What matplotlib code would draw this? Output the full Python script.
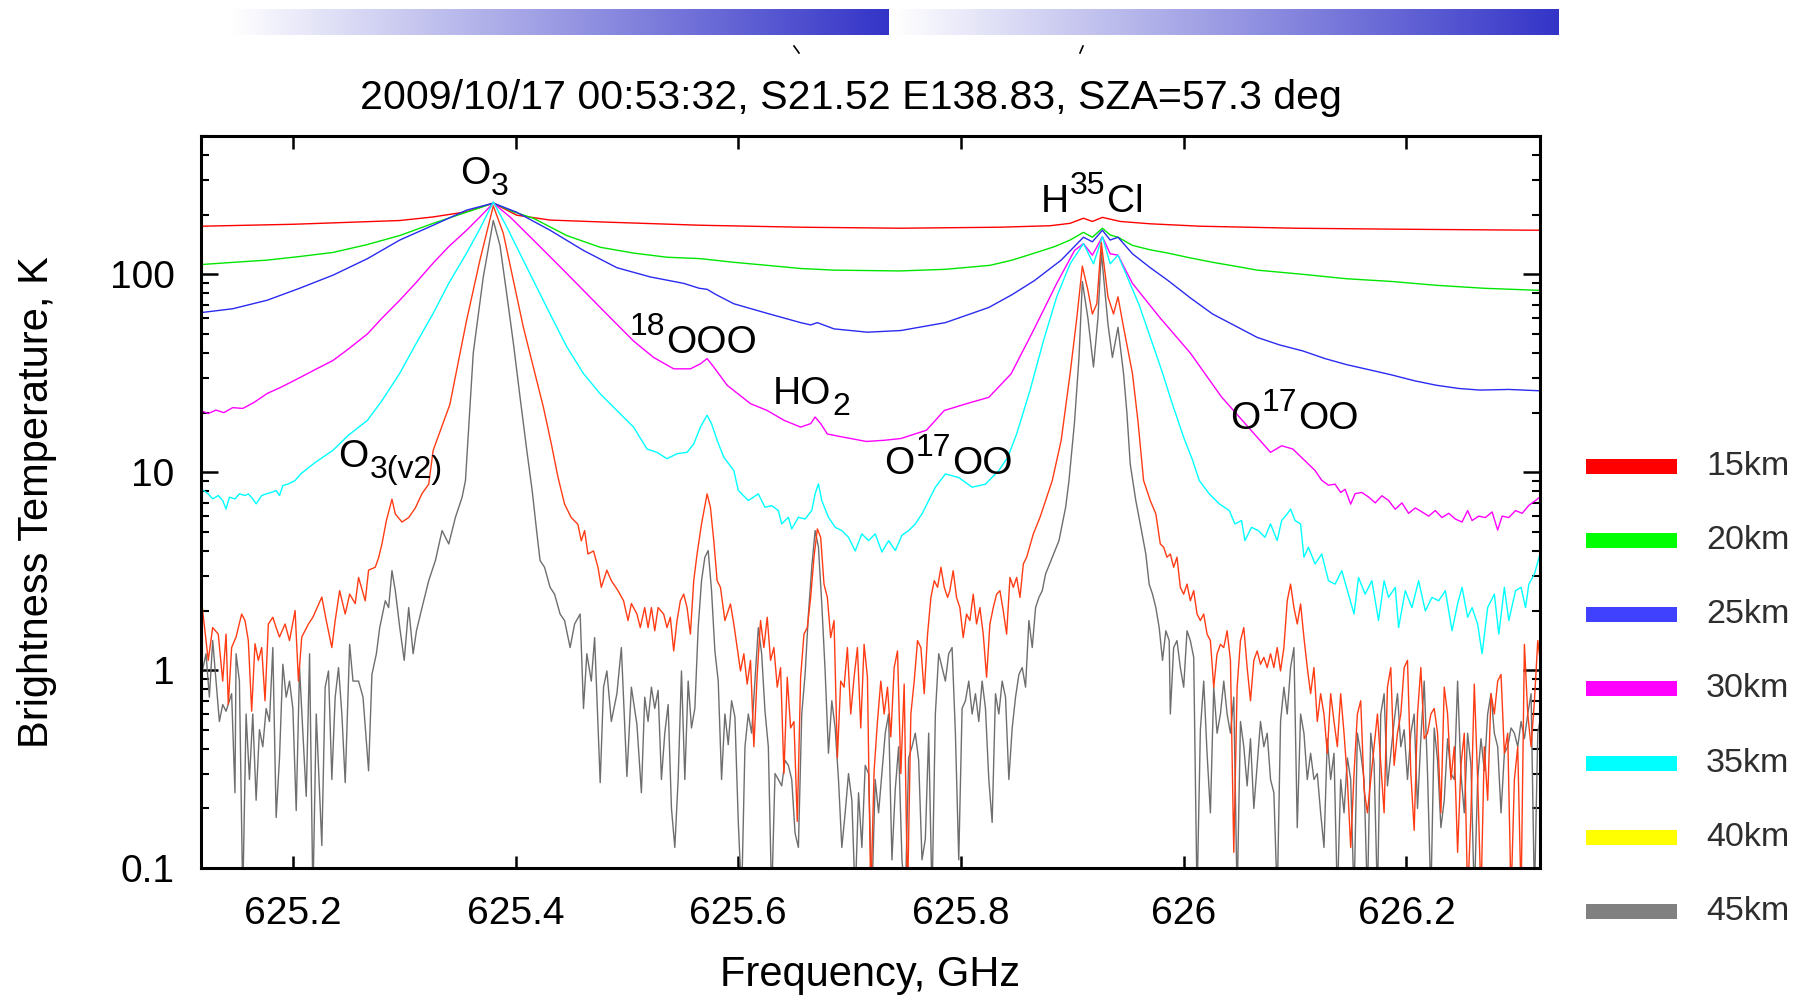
import matplotlib.pyplot as plt
from matplotlib import patches
from matplotlib.colors import LinearSegmentedColormap
from matplotlib.lines import Line2D
from matplotlib.ticker import LogLocator, NullFormatter
import numpy as np

plt.rcParams["font.family"] = ["Liberation Sans", "DejaVu Sans"]

title = "2009/10/17 00:53:32, S21.52 E138.83, SZA=57.3 deg"

#####################################################################
## Spectra: frequency (GHz) and brightness temperature (K) per altitude
#####################################################################
freq_15 = [625.117, 625.200, 625.296, 625.326, 625.356, 625.380, 625.401, 625.431,
           625.476, 625.566, 625.656, 625.746, 625.835, 625.880, 625.898, 625.910,
           625.918, 625.927, 625.943, 625.970, 626.015, 626.100, 626.195, 626.320]
temp_15 = [175, 179, 187, 195, 207, 229, 199, 188,
           184, 177, 173, 171, 173, 176, 181, 192,
           185, 194, 185, 180, 175, 171, 169, 167]

freq_20 = [625.117, 625.147, 625.177, 625.206, 625.236, 625.266, 625.296, 625.326,
           625.356, 625.380, 625.398, 625.416, 625.446, 625.476, 625.506, 625.536,
           625.566, 625.596, 625.626, 625.656, 625.686, 625.745, 625.786, 625.826,
           625.846, 625.866, 625.884, 625.898, 625.910, 625.918, 625.927, 625.934,
           625.941, 625.954, 625.970, 625.986, 626.006, 626.026, 626.046, 626.066,
           626.107, 626.146, 626.187, 626.227, 626.270, 626.319]
temp_20 = [112, 115, 118, 123, 129, 141, 157, 181,
           206, 229, 207, 192, 157, 137, 128, 122,
           120, 115, 111, 107, 105, 104, 106, 111,
           118, 128, 138, 149, 163, 154, 171, 158,
           154, 140, 133, 128, 121, 115, 110, 105,
           100, 95, 92, 88, 85, 83]

freq_25 = [625.117, 625.146, 625.177, 625.206, 625.236, 625.267, 625.296, 625.326,
           625.356, 625.380, 625.401, 625.431, 625.461, 625.491, 625.521, 625.551,
           625.565, 625.572, 625.580, 625.596, 625.626, 625.656, 625.665, 625.671,
           625.686, 625.716, 625.746, 625.786, 625.825, 625.846, 625.866, 625.890,
           625.910, 625.918, 625.927, 625.934, 625.941, 625.954, 625.970, 625.986,
           626.006, 626.026, 626.046, 626.066, 626.086, 626.107, 626.127, 626.146,
           626.166, 626.187, 626.207, 626.227, 626.247, 626.266, 626.292, 626.319]
temp_25 = [64, 67, 74, 85, 99, 120, 149, 177,
           211, 229, 206, 167, 132, 108, 97, 90,
           85, 84, 79, 71, 63.5, 57, 55.5, 57,
           53, 51, 52, 57, 68, 79, 93, 118,
           154, 146, 167, 149, 154, 127, 108, 93,
           76, 63, 55, 48, 44, 41, 37.5, 35,
           33, 31, 29, 27.5, 26.5, 26, 26.2, 25.8]

freq_30 = [625.117, 625.124, 625.131, 625.138, 625.146, 625.155, 625.165, 625.177,
           625.190, 625.206, 625.220, 625.236, 625.250, 625.267, 625.280, 625.296,
           625.310, 625.326, 625.340, 625.356, 625.368, 625.380, 625.395, 625.416,
           625.446, 625.476, 625.506, 625.524, 625.542, 625.557, 625.566, 625.572,
           625.578, 625.590, 625.611, 625.626, 625.641, 625.656, 625.665, 625.669,
           625.674, 625.680, 625.690, 625.701, 625.715, 625.731, 625.746, 625.769,
           625.785, 625.805, 625.825, 625.845, 625.865, 625.886, 625.902, 625.910,
           625.918, 625.927, 625.934, 625.941, 625.954, 625.978, 626.006, 626.034,
           626.058, 626.078, 626.088, 626.098, 626.118, 626.124, 626.130, 626.136,
           626.141, 626.145, 626.150, 626.154, 626.160, 626.166, 626.172, 626.178,
           626.184, 626.190, 626.196, 626.202, 626.208, 626.214, 626.220, 626.226,
           626.232, 626.238, 626.244, 626.250, 626.255, 626.259, 626.265, 626.271,
           626.277, 626.282, 626.286, 626.292, 626.298, 626.304, 626.310, 626.316,
           626.320]
temp_30 = [20.5, 19.8, 20.6, 20.0, 21.2, 21.0, 22.5, 25,
           27, 30, 33, 36.7, 42, 50, 60, 74,
           90, 114, 138, 167, 195, 229, 195, 149,
           101, 68, 46, 38, 33.3, 33.3, 35.3, 37.5,
           34, 27.5, 22.2, 20.5, 18.3, 16.9, 17.6, 19,
           17.6, 15.6, 15.2, 14.8, 14.3, 14.5, 14.8, 16.3,
           20.5, 22.2, 23.9, 31.4, 52, 90, 132, 143,
           125, 155, 127, 125, 90, 61, 40, 24,
           16.9, 12.6, 13.6, 13.1, 10.2, 9.1, 8.6, 8.7,
           7.9, 8.2, 6.9, 7.8, 7.9, 7.5, 7.0, 7.6,
           7.2, 6.5, 7.0, 6.2, 6.6, 6.3, 6.0, 6.4,
           5.9, 6.2, 5.8, 5.6, 6.4, 5.7, 6.0, 5.9,
           6.3, 5.1, 6.0, 5.9, 6.4, 6.2, 6.8, 7.2,
           7.5]

freq_35 = [625.117, 625.120, 625.124, 625.128, 625.133, 625.137, 625.140, 625.143,
           625.148, 625.152, 625.157, 625.160, 625.164, 625.167, 625.172, 625.176,
           625.181, 625.185, 625.188, 625.191, 625.196, 625.202, 625.207, 625.220,
           625.236, 625.250, 625.267, 625.280, 625.296, 625.310, 625.326, 625.340,
           625.356, 625.368, 625.380, 625.392, 625.404, 625.416, 625.431, 625.446,
           625.461, 625.476, 625.491, 625.506, 625.518, 625.527, 625.536, 625.545,
           625.554, 625.560, 625.566, 625.572, 625.576, 625.581, 625.587, 625.596,
           625.600, 625.609, 625.618, 625.624, 625.630, 625.636, 625.639, 625.645,
           625.648, 625.654, 625.660, 625.666, 625.669, 625.672, 625.675, 625.681,
           625.687, 625.693, 625.699, 625.705, 625.711, 625.717, 625.723, 625.729,
           625.735, 625.741, 625.747, 625.753, 625.759, 625.765, 625.771, 625.777,
           625.786, 625.798, 625.810, 625.822, 625.834, 625.842, 625.850, 625.862,
           625.874, 625.886, 625.898, 625.910, 625.919, 625.927, 625.934, 625.941,
           625.950, 625.960, 625.970, 625.980, 625.990, 626.000, 626.008, 626.014,
           626.023, 626.032, 626.041, 626.046, 626.052, 626.055, 626.061, 626.067,
           626.073, 626.078, 626.084, 626.088, 626.093, 626.096, 626.100, 626.105,
           626.108, 626.112, 626.118, 626.124, 626.130, 626.136, 626.142, 626.148,
           626.153, 626.157, 626.163, 626.169, 626.175, 626.180, 626.184, 626.190,
           626.193, 626.199, 626.205, 626.211, 626.217, 626.223, 626.229, 626.235,
           626.241, 626.246, 626.250, 626.255, 626.259, 626.264, 626.268, 626.273,
           626.279, 626.283, 626.288, 626.292, 626.298, 626.303, 626.307, 626.310,
           626.315, 626.320]
temp_35 = [8.1, 8.08, 7.77, 7.33, 7.62, 7.19, 6.52, 7.48,
           7.33, 7.77, 7.62, 7.77, 7.33, 6.92, 7.62, 7.77,
           7.92, 8.08, 7.62, 8.56, 8.73, 9.08, 9.8, 11.2,
           12.9, 15.4, 18.3, 23, 31.6, 44, 63.5, 90,
           128, 170, 232, 174, 127, 93, 63, 43,
           31.5, 24.9, 20.5, 16.9, 13.1, 12.6, 11.7, 12.4,
           12.6, 13.9, 16.9, 19.4, 17.6, 14.5, 11.9, 10.2,
           8.1, 7.19, 7.77, 6.65, 6.78, 6.4, 5.48, 5.92,
           5.17, 5.92, 5.8, 6.4, 7.77, 8.73, 7.19, 5.92,
           5.27, 5.07, 4.69, 4.0, 4.88, 4.51, 4.88, 3.95,
           4.51, 4.02, 4.8, 5.07, 5.48, 6.16, 7.19, 8.4,
           9.8, 9.4, 8.4, 8.7, 10.2, 11.9, 15.6, 25.9,
           46, 77, 113, 143, 113, 155, 113, 125,
           95, 70, 48, 33, 22, 15, 11.5, 9.08,
           7.77, 6.92, 6.4, 5.48, 5.7, 4.51, 5.27, 5.07,
           4.69, 5.48, 4.51, 5.7, 6.16, 6.52, 5.7, 5.48,
           3.72, 4.18, 3.44, 3.86, 2.83, 2.72, 3.18, 2.42,
           1.92, 2.94, 2.42, 2.83, 1.78, 2.83, 2.33, 2.62,
           1.64, 2.52, 2.07, 2.83, 1.99, 2.33, 2.24, 2.52,
           1.58, 2.16, 2.62, 1.85, 2.07, 1.71, 1.21, 2.07,
           2.42, 1.52, 2.62, 1.78, 2.52, 2.62, 2.07, 2.72,
           3.06, 3.86]

freq_40 = [625.118, 625.124, 625.128, 625.133, 625.137, 625.140, 625.142, 625.145,
           625.149, 625.154, 625.157, 625.160, 625.163, 625.166, 625.169, 625.172,
           625.175, 625.178, 625.182, 625.185, 625.188, 625.193, 625.197, 625.202,
           625.205, 625.208, 625.214, 625.218, 625.226, 625.230, 625.235, 625.238,
           625.242, 625.247, 625.251, 625.256, 625.259, 625.265, 625.268, 625.274,
           625.277, 625.280, 625.284, 625.289, 625.292, 625.298, 625.304, 625.310,
           625.316, 625.322, 625.326, 625.341, 625.356, 625.368, 625.380, 625.389,
           625.398, 625.407, 625.416, 625.425, 625.432, 625.438, 625.444, 625.450,
           625.456, 625.459, 625.462, 625.465, 625.470, 625.474, 625.477, 625.482,
           625.486, 625.492, 625.497, 625.501, 625.504, 625.509, 625.512, 625.516,
           625.519, 625.522, 625.525, 625.528, 625.533, 625.536, 625.539, 625.542,
           625.545, 625.548, 625.551, 625.554, 625.557, 625.560, 625.563, 625.567,
           625.572, 625.575, 625.578, 625.581, 625.584, 625.588, 625.593, 625.596,
           625.599, 625.602, 625.605, 625.608, 625.611, 625.614, 625.617, 625.620,
           625.623, 625.626, 625.629, 625.632, 625.635, 625.638, 625.641, 625.644,
           625.647, 625.650, 625.653, 625.656, 625.659, 625.662, 625.665, 625.668,
           625.671, 625.674, 625.677, 625.680, 625.683, 625.686, 625.689, 625.692,
           625.695, 625.698, 625.701, 625.704, 625.707, 625.710, 625.713, 625.716,
           625.719, 625.722, 625.725, 625.728, 625.731, 625.734, 625.737, 625.740,
           625.743, 625.746, 625.749, 625.752, 625.755, 625.758, 625.761, 625.764,
           625.767, 625.770, 625.773, 625.776, 625.779, 625.782, 625.785, 625.788,
           625.790, 625.793, 625.796, 625.799, 625.802, 625.805, 625.808, 625.811,
           625.814, 625.817, 625.820, 625.823, 625.826, 625.829, 625.832, 625.835,
           625.838, 625.841, 625.844, 625.847, 625.850, 625.853, 625.856, 625.859,
           625.865, 625.871, 625.877, 625.882, 625.890, 625.898, 625.904, 625.909,
           625.914, 625.918, 625.922, 625.926, 625.932, 625.937, 625.941, 625.946,
           625.954, 625.959, 625.964, 625.970, 625.975, 625.979, 625.982, 625.985,
           625.988, 625.991, 625.994, 625.997, 626.000, 626.003, 626.006, 626.009,
           626.012, 626.015, 626.018, 626.021, 626.024, 626.027, 626.030, 626.033,
           626.036, 626.039, 626.042, 626.045, 626.048, 626.051, 626.054, 626.057,
           626.060, 626.063, 626.066, 626.069, 626.072, 626.075, 626.078, 626.081,
           626.084, 626.087, 626.090, 626.093, 626.096, 626.099, 626.102, 626.105,
           626.108, 626.111, 626.114, 626.117, 626.120, 626.123, 626.126, 626.129,
           626.132, 626.135, 626.138, 626.141, 626.144, 626.147, 626.150, 626.153,
           626.156, 626.159, 626.162, 626.165, 626.168, 626.171, 626.174, 626.177,
           626.180, 626.183, 626.186, 626.189, 626.192, 626.195, 626.198, 626.201,
           626.204, 626.207, 626.210, 626.213, 626.216, 626.219, 626.222, 626.225,
           626.228, 626.231, 626.234, 626.237, 626.240, 626.243, 626.246, 626.249,
           626.252, 626.255, 626.258, 626.261, 626.264, 626.267, 626.270, 626.273,
           626.276, 626.279, 626.282, 626.285, 626.288, 626.291, 626.294, 626.297,
           626.300, 626.303, 626.306, 626.309, 626.312, 626.315, 626.318, 626.321]
temp_40 = [2.24, 1.12, 1.64, 1.52, 0.88, 1.52, 0.67, 1.30,
           1.47, 1.92, 1.78, 1.41, 0.62, 1.36, 1.12, 1.30,
           0.70, 1.71, 1.85, 1.64, 1.47, 1.71, 1.41, 2.0,
           0.88, 1.47, 1.71, 1.85, 2.34, 1.78, 1.30, 1.78,
           2.52, 1.92, 2.42, 2.17, 2.94, 2.24, 3.2, 3.31,
           3.7, 4.34, 5.7, 7.3, 6.15, 5.6, 5.9, 6.6,
           7.8, 8.7, 12.9, 22, 58.5, 118, 222, 161,
           93, 54, 34, 21.3, 14, 9.5, 6.9, 5.9,
           5.45, 4.5, 5.07, 3.86, 4.0, 3.31, 2.62, 3.2,
           2.83, 2.52, 2.24, 1.78, 2.17, 1.92, 1.64, 2.07,
           1.64, 2.07, 1.58, 2.07, 1.92, 1.64, 1.85, 1.25,
           1.78, 2.24, 2.42, 2.07, 1.52, 2.83, 3.86, 5.48,
           7.77, 6.65, 4.51, 2.83, 2.62, 1.78, 2.16, 1.71,
           1.30, 0.99, 1.21, 0.85, 1.12, 0.41, 0.95, 1.78,
           1.30, 1.85, 1.12, 1.30, 0.82, 1.03, 0.30, 0.92,
           0.51, 0.55, 0.172, 0.92, 1.52, 1.64, 2.33, 3.72,
           5.17, 4.69, 2.72, 2.33, 1.46, 1.78, 0.36, 0.88,
           0.82, 1.30, 0.60, 0.92, 1.30, 0.51, 1.35, 0.92,
           0.07, 0.31, 0.55, 0.88, 0.60, 0.82, 0.46, 1.03,
           1.25, 0.30, 0.85, 0.07, 0.60, 0.88, 1.41, 1.30,
           0.76, 1.52, 2.33, 2.83, 2.62, 3.31, 2.62, 2.33,
           2.52, 3.18, 2.33, 2.07, 1.46, 1.92, 1.78, 2.42,
           1.71, 2.07, 1.52, 0.92, 1.71, 2.07, 2.42, 2.52,
           1.99, 1.52, 2.94, 2.62, 2.94, 2.33, 3.44, 3.72,
           4.88, 5.92, 7.48, 9.08, 14.5, 31.5, 60, 110,
           83, 63, 71, 145, 77, 63, 77, 54,
           31.5, 18, 9.08, 7.19, 6.16, 4.34, 4.18, 3.72,
           3.86, 3.31, 3.72, 2.62, 2.42, 2.72, 2.24, 2.52,
           1.92, 1.78, 1.92, 1.52, 1.41, 0.82, 1.21, 1.35,
           1.30, 1.58, 1.12, 0.12, 0.82, 1.41, 1.64, 1.03,
           0.70, 1.12, 1.25, 1.07, 1.16, 1.03, 1.21, 1.03,
           1.30, 0.99, 1.30, 2.24, 2.72, 2.07, 1.71, 2.16,
           1.46, 1.03, 0.76, 1.03, 0.55, 0.76, 0.60, 0.38,
           0.76, 0.55, 0.41, 0.76, 0.48, 0.28, 0.127, 0.30,
           0.60, 0.70, 0.25, 0.19, 0.28, 0.41, 0.60, 0.34,
           0.19, 0.82, 1.03, 0.33, 0.48, 0.60, 1.03, 1.12,
           0.30, 0.155, 0.60, 1.03, 0.45, 0.48, 0.60, 0.64,
           0.48, 0.19, 0.82, 0.60, 0.28, 0.41, 0.12, 0.33,
           0.48, 0.07, 0.19, 0.85, 0.28, 0.07, 0.41, 0.22,
           0.76, 0.60, 0.88, 0.95, 0.38, 0.48, 0.07, 0.28,
           0.41, 0.07, 1.35, 0.60, 0.41, 0.70, 1.41, 1.03]

freq_45 = [625.118, 625.122, 625.125, 625.128, 625.131, 625.134, 625.137, 625.140,
           625.145, 625.148, 625.149, 625.152, 625.155, 625.158, 625.161, 625.164,
           625.167, 625.170, 625.173, 625.176, 625.179, 625.182, 625.185, 625.188,
           625.191, 625.194, 625.197, 625.200, 625.203, 625.206, 625.209, 625.212,
           625.215, 625.218, 625.221, 625.226, 625.229, 625.232, 625.235, 625.238,
           625.241, 625.244, 625.247, 625.251, 625.254, 625.259, 625.263, 625.268,
           625.271, 625.275, 625.278, 625.283, 625.286, 625.289, 625.292, 625.296,
           625.300, 625.304, 625.308, 625.311, 625.316, 625.322, 625.328, 625.334,
           625.340, 625.346, 625.352, 625.355, 625.362, 625.371, 625.380, 625.386,
           625.392, 625.398, 625.404, 625.410, 625.415, 625.419, 625.422, 625.426,
           625.431, 625.435, 625.440, 625.444, 625.449, 625.453, 625.458, 625.461,
           625.464, 625.468, 625.471, 625.476, 625.479, 625.482, 625.486, 625.491,
           625.495, 625.500, 625.504, 625.509, 625.513, 625.516, 625.519, 625.522,
           625.525, 625.528, 625.531, 625.534, 625.537, 625.540, 625.543, 625.546,
           625.549, 625.552, 625.555, 625.558, 625.561, 625.564, 625.567, 625.570,
           625.573, 625.576, 625.579, 625.582, 625.585, 625.588, 625.591, 625.594,
           625.597, 625.600, 625.603, 625.606, 625.609, 625.612, 625.615, 625.618,
           625.621, 625.624, 625.627, 625.630, 625.633, 625.636, 625.639, 625.642,
           625.645, 625.648, 625.651, 625.654, 625.657, 625.660, 625.663, 625.666,
           625.669, 625.672, 625.675, 625.678, 625.681, 625.684, 625.687, 625.690,
           625.693, 625.696, 625.699, 625.702, 625.705, 625.708, 625.711, 625.714,
           625.717, 625.720, 625.723, 625.726, 625.729, 625.732, 625.735, 625.738,
           625.741, 625.744, 625.747, 625.750, 625.753, 625.756, 625.759, 625.762,
           625.765, 625.768, 625.771, 625.774, 625.777, 625.780, 625.783, 625.786,
           625.789, 625.792, 625.795, 625.798, 625.801, 625.804, 625.807, 625.810,
           625.813, 625.816, 625.819, 625.822, 625.825, 625.828, 625.831, 625.834,
           625.837, 625.840, 625.843, 625.846, 625.849, 625.852, 625.855, 625.858,
           625.861, 625.864, 625.867, 625.870, 625.873, 625.876, 625.882, 625.888,
           625.894, 625.897, 625.902, 625.906, 625.909, 625.914, 625.919, 625.923,
           625.926, 625.932, 625.936, 625.941, 625.946, 625.949, 625.952, 625.957,
           625.961, 625.966, 625.969, 625.972, 625.975, 625.978, 625.981, 625.984,
           625.987, 625.988, 625.991, 625.994, 625.997, 626.000, 626.003, 626.006,
           626.009, 626.012, 626.015, 626.018, 626.021, 626.024, 626.027, 626.030,
           626.033, 626.036, 626.039, 626.042, 626.045, 626.048, 626.051, 626.054,
           626.057, 626.060, 626.063, 626.066, 626.069, 626.072, 626.075, 626.078,
           626.081, 626.084, 626.087, 626.090, 626.093, 626.096, 626.099, 626.102,
           626.105, 626.108, 626.111, 626.114, 626.117, 626.120, 626.123, 626.126,
           626.129, 626.132, 626.135, 626.138, 626.141, 626.144, 626.147, 626.150,
           626.153, 626.156, 626.159, 626.162, 626.165, 626.168, 626.171, 626.174,
           626.177, 626.180, 626.183, 626.186, 626.189, 626.192, 626.195, 626.198,
           626.201, 626.204, 626.207, 626.210, 626.213, 626.216, 626.219, 626.222,
           626.225, 626.228, 626.231, 626.234, 626.237, 626.240, 626.243, 626.246,
           626.249, 626.252, 626.255, 626.258, 626.261, 626.264, 626.267, 626.270,
           626.273, 626.276, 626.279, 626.282, 626.285, 626.288, 626.291, 626.294,
           626.297, 626.300, 626.303, 626.306, 626.309, 626.312, 626.315, 626.318,
           626.321]
temp_45 = [0.95, 1.21, 0.73, 1.41, 0.88, 0.55, 0.67, 0.62,
           0.76, 0.24, 1.21, 0.88, 0.07, 0.60, 0.28, 0.60,
           0.22, 0.50, 0.41, 0.64, 0.55, 1.30, 0.18, 0.36,
           1.07, 0.73, 0.88, 0.64, 0.195, 1.03, 0.48, 0.23,
           1.21, 0.07, 0.60, 0.13, 0.82, 0.99, 0.28, 0.73,
           1.03, 0.60, 0.27, 1.35, 0.88, 0.88, 0.73, 0.31,
           0.95, 1.21, 1.64, 2.24, 2.07, 3.18, 2.52, 1.64,
           1.12, 2.07, 1.21, 1.58, 2.07, 2.83, 3.58, 5.07,
           4.34, 5.92, 7.48, 9.08, 40, 97, 187, 140,
           80, 45, 24, 13, 8.0, 5.0, 3.58, 3.31,
           2.62, 2.42, 1.92, 1.78, 1.30, 1.71, 1.92, 0.64,
           1.21, 0.88, 1.46, 0.27, 0.82, 0.99, 0.55, 0.76,
           1.30, 0.29, 0.82, 0.53, 0.24, 0.73, 0.55, 0.82,
           0.64, 0.79, 0.28, 0.48, 0.67, 0.20, 0.127, 0.28,
           0.99, 0.28, 0.88, 0.51, 0.64, 1.64, 2.83, 3.72,
           4.02, 2.52, 1.25, 0.88, 0.28, 0.60, 0.42, 0.70,
           0.58, 0.172, 0.07, 0.41, 0.60, 0.48, 0.88, 1.64,
           1.21, 0.62, 0.41, 0.07, 0.30, 0.28, 0.26, 0.35,
           0.33, 0.28, 0.15, 0.127, 0.60, 0.95, 1.92, 3.31,
           5.07, 4.18, 2.16, 0.99, 0.38, 0.70, 0.51, 0.28,
           0.127, 0.19, 0.30, 0.22, 0.07, 0.24, 0.127, 0.33,
           0.30, 0.07, 0.28, 0.19, 0.30, 0.48, 0.60, 0.11,
           0.25, 0.41, 0.11, 0.07, 0.36, 0.41, 0.48, 0.35,
           0.11, 0.14, 0.48, 0.07, 0.60, 1.21, 1.03, 0.88,
           1.21, 1.30, 0.48, 0.11, 0.64, 0.70, 0.88, 0.60,
           0.76, 0.55, 0.88, 0.64, 0.28, 0.17, 0.76, 0.60,
           0.88, 0.73, 0.28, 0.51, 0.73, 0.95, 1.03, 0.82,
           1.78, 1.30, 2.07, 2.33, 2.52, 3.06, 3.72, 4.51,
           6.65, 9.08, 18, 38, 92, 60, 34, 60,
           130, 56, 38, 54, 31.5, 20, 11, 7.19,
           5.48, 3.86, 2.72, 2.42, 2.07, 1.64, 1.12, 1.58,
           1.41, 0.60, 1.30, 1.41, 1.03, 0.82, 1.58, 1.41,
           1.16, 0.07, 0.50, 0.88, 0.38, 0.19, 0.82, 0.48,
           0.60, 0.88, 0.60, 0.48, 0.73, 0.07, 0.55, 0.41,
           0.26, 0.45, 0.20, 0.33, 0.55, 0.41, 0.48, 0.28,
           0.24, 0.07, 0.55, 0.82, 0.60, 1.03, 1.30, 0.16,
           0.60, 0.48, 0.28, 0.38, 0.28, 0.30, 0.19, 0.127,
           0.45, 0.28, 0.38, 0.07, 0.28, 0.19, 0.36, 0.28,
           0.07, 0.48, 0.38, 0.28, 0.07, 0.48, 0.34, 0.07,
           0.60, 0.76, 0.26, 0.38, 0.55, 0.76, 0.41, 0.50,
           0.28, 0.48, 0.60, 0.20, 0.45, 0.88, 0.30, 0.07,
           0.51, 0.35, 0.16, 0.22, 0.45, 0.30, 0.28, 0.88,
           0.30, 0.19, 0.48, 0.33, 0.07, 0.28, 0.45, 0.31,
           0.60, 0.76, 0.48, 0.41, 0.19, 0.38, 0.41, 0.51,
           0.48, 0.41, 0.55, 0.45, 0.60, 0.76, 0.07, 0.48,
           0.60]

altitudes = ["15km", "20km", "25km", "30km", "35km", "40km", "45km"]
legend_colors = ["#ff0000", "#00ff00", "#4040ff", "#ff00ff", "#00ffff", "#ffff00", "#808080"]
line_colors = ["#ff0000", "#00e600", "#2a2af0", "#ff00ff", "#00ffff", "#ff3c14", "#6e6e6e"]

x_ticks = [625.2, 625.4, 625.6, 625.8, 626.0, 626.2]
x_tick_labels = ["625.2", "625.4", "625.6", "625.8", "626", "626.2"]
y_ticks = [0.1, 1, 10, 100]
y_tick_labels = ["0.1", "1", "10", "100"]

# species labels: pieces (text, placement), frequency of left edge, temperature of baseline
line_labels = [
    ([("O", "n"), ("3", "sub")], 625.350, 285),
    ([("O", "n"), ("3(v2)", "sub")], 625.241, 10.6),
    ([("18", "sup"), ("OOO", "n")], 625.502, 40),
    ([("HO", "n"), ("2", "sub")], 625.631, 22),
    ([("O", "n"), ("17", "sup"), ("OO", "n")], 625.731, 9.8),
    ([("H", "n"), ("35", "sup"), ("Cl", "n")], 625.872, 206),
    ([("O", "n"), ("17", "sup"), ("OO", "n")], 626.042, 16.6),
]

#####################################################################
## Figure
#####################################################################
W, H = 1800, 996
fig = plt.figure(figsize=(W / 100, H / 100), dpi=100)
fig.patch.set_facecolor("white")

ax = fig.add_axes([201 / W, 1 - 868 / H, 1339 / W, 732 / H])

spectra = [
    (freq_15, temp_15), (freq_20, temp_20), (freq_25, temp_25), (freq_30, temp_30),
    (freq_35, temp_35), (freq_45, temp_45), (freq_40, temp_40),
]
colors_in_order = line_colors[:5] + [line_colors[6], line_colors[5]]
for (f, t), c in zip(spectra, colors_in_order):
    ax.plot(f, t, color=c, linewidth=1.0)

ax.set_yscale("log")
ax.set_xlim(625.1175, 626.32)
ax.set_ylim(0.1, 500)

ax.set_xticks(x_ticks)
ax.set_xticklabels(x_tick_labels)
ax.set_yticks(y_ticks)
ax.set_yticklabels(y_tick_labels)
ax.yaxis.set_minor_locator(LogLocator(base=10, subs=np.arange(2, 10)))
ax.yaxis.set_minor_formatter(NullFormatter())
ax.xaxis.set_minor_locator(plt.NullLocator())

ax.tick_params(which="both", direction="in", top=True, right=True, colors="black")
ax.tick_params(axis="x", which="major", length=9, width=1.8, labelsize=28, pad=20)
ax.tick_params(axis="y", which="major", length=12, width=1.8, labelsize=28, pad=19)
ax.tick_params(axis="y", which="minor", length=6, width=1.5)
for s in ax.spines.values():
    s.set_linewidth(2.2)

ax.set_xlabel("Frequency, GHz", fontsize=30)
ax.xaxis.set_label_coords(0.5, -0.119)
ax.set_ylabel("Brightness Temperature, K", fontsize=30)
ax.yaxis.set_label_coords(-0.1075, 0.5)

## Species labels built piece by piece so sub/superscripts keep their size
renderer = fig.canvas.get_renderer()
piece_size = {"n": 28, "sub": 23, "sup": 23}
piece_rise = {"n": 0, "sub": -11, "sup": 18}
for pieces, f, t in line_labels:
    dx = 0
    for s, kind in pieces:
        txt = ax.annotate(s, xy=(f, t), xycoords="data", xytext=(dx, piece_rise[kind]),
                          textcoords="offset pixels", fontsize=piece_size[kind],
                          ha="left", va="baseline")
        dx += txt.get_window_extent(renderer).width + 1

fig.text(851 / W, 1 - 109 / H, title, fontsize=29.6, ha="center", va="baseline")

## Legend to the right of the plot
for i, (lab, col) in enumerate(zip(altitudes, legend_colors)):
    yc = 466 + 74.3 * i
    fig.add_artist(patches.Rectangle((1586 / W, 1 - (yc + 7.5) / H), 91 / W, 15 / H,
                                     transform=fig.transFigure, facecolor=col,
                                     edgecolor="none"))
    fig.text(1706 / W, 1 - yc / H, lab, fontsize=24.5, color="#2e2e2e",
             ha="left", va="center")

## Gradient bars along the top edge
banner_cmap = LinearSegmentedColormap.from_list("banner", ["#ffffff", "#3434c8"])
gradient = np.linspace(0, 1, 256).reshape(1, -1)
for x0, x1 in [(230, 889), (893, 1558)]:
    bax = fig.add_axes([x0 / W, 1 - 35 / H, (x1 - x0) / W, 26 / H])
    bax.imshow(gradient, aspect="auto", cmap=banner_cmap)
    bax.set_axis_off()

# bottoms of a clipped subtitle's brackets
fig.add_artist(Line2D([794 / W, 799 / W], [1 - 46 / H, 1 - 53 / H], color="black", lw=1.2))
fig.add_artist(Line2D([1083 / W, 1080 / W], [1 - 46 / H, 1 - 53 / H], color="black", lw=1.2))

fig.savefig("out.png", dpi=100)
